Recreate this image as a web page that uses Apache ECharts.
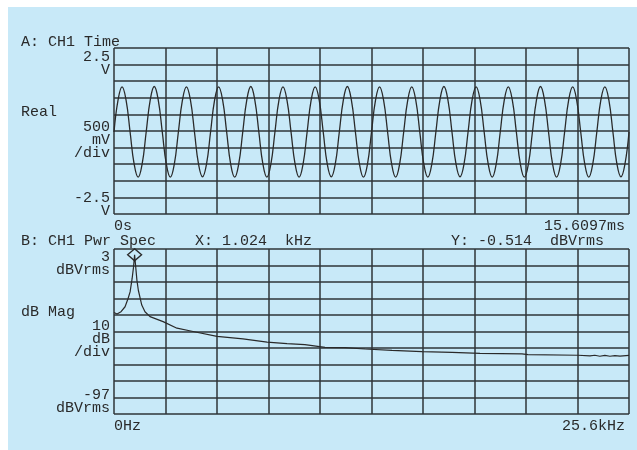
<!DOCTYPE html>
<html>
<head>
<meta charset="utf-8">
<script src="https://cdn.jsdelivr.net/npm/echarts@6/dist/echarts.min.js"></script>
<style>
  html, body { margin: 0; padding: 0; background: #ffffff; }
  #chart { position: absolute; left: 8px; top: 7px; width: 629px; height: 443px; }
</style>
</head>
<body>
<div id="chart"></div>
<script>
// trace A: time record, volts (8 readings per cycle, 16 cycles)
const timeSpanMs = 15.6097
const waveVolts = [
  -0.03, 0.93, 1.33, 0.93, -0.03, -0.99, -1.39, -0.99,
  -0.03, 0.93, 1.34, 0.93, -0.03, -0.99, -1.39, -0.99,
  -0.03, 0.92, 1.33, 0.93, -0.03, -0.99, -1.38, -0.99,
  -0.03, 0.93, 1.33, 0.93, -0.03, -1.00, -1.39, -0.99,
  -0.03, 0.93, 1.34, 0.93, -0.03, -0.99, -1.39, -0.99,
  -0.03, 0.93, 1.33, 0.92, -0.03, -0.99, -1.39, -0.99,
  -0.03, 0.93, 1.33, 0.93, -0.03, -0.99, -1.38, -0.99,
  -0.03, 0.93, 1.34, 0.93, -0.03, -0.99, -1.39, -1.00,
  -0.03, 0.93, 1.33, 0.93, -0.03, -0.99, -1.39, -0.99,
  -0.03, 0.92, 1.33, 0.93, -0.03, -0.99, -1.39, -0.99,
  -0.03, 0.93, 1.34, 0.93, -0.03, -0.99, -1.38, -0.99,
  -0.03, 0.93, 1.33, 0.93, -0.03, -0.99, -1.39, -0.99,
  -0.03, 0.93, 1.33, 0.93, -0.03, -1.00, -1.39, -0.99,
  -0.03, 0.93, 1.34, 0.93, -0.03, -0.99, -1.39, -0.99,
  -0.03, 0.93, 1.33, 0.92, -0.03, -0.99, -1.39, -0.99,
  -0.03, 0.93, 1.33, 0.93, -0.03, -0.99, -1.38, -0.99,
  -0.03
]

// trace B: power spectrum, kHz / dBVrms
const specFreqKHz = [
  0, 0.15, 0.35, 0.55, 0.70, 0.80, 0.90, 0.97, 1.024, 1.08, 1.14, 1.21, 1.38, 1.54,
  1.79, 2.44, 3.13, 3.93, 5.12, 6.41, 7.61, 8.60, 9.49, 10.49, 11.48, 12.48, 13.82,
  15.31, 16.80, 18.19, 20.28, 20.58, 23.07, 23.66, 23.9, 24.15, 24.4, 24.65, 24.9, 25.15, 25.6
]
const specDb = [
  -35.5, -36.4, -35, -32, -27, -23, -15, -8, -0.514, -8, -16, -22, -31, -35,
  -38, -41, -45, -47, -50, -51.5, -53.4, -54.4, -55, -56.6, -56.8, -57.6, -58.4,
  -59.2, -59.6, -60.2, -60.6, -61, -61.4, -61.8, -61.4, -62, -61.5, -62, -61.6, -61.9, -61.5
]
const marker = { freq: 1.024, db: -0.514 }

const timeLabels = ['0s', '15.6097ms']
const freqLabels = ['0Hz', '25.6kHz']
const voltLabels = ['2.5', 'V', '500', 'mV', '/div', '-2.5', 'V']
const dbLabels = ['3', 'dBVrms', '10', 'dB', '/div', '-97', 'dBVrms']

const FONT = 'Liberation Mono'
const INK = '#2a2a2a'
const GRIDLINE = '#2f3438'

const wavePoints = waveVolts.map((v, i) => [i * timeSpanMs / (waveVolts.length - 1), v])
const specPoints = specFreqKHz.map((f, i) => [f, specDb[i]])

const richText = {
  t: { fontFamily: FONT, fontSize: 15, lineHeight: 13, color: INK, align: 'right' },
  r: { fontFamily: FONT, fontSize: 15, color: INK, padding: [0, 4, 0, 0] },
  g32: { fontSize: 1, lineHeight: 32 },
  g18: { fontSize: 1, lineHeight: 18 },
  g19: { fontSize: 1, lineHeight: 19 },
  g29: { fontSize: 1, lineHeight: 29 },
  g15: { fontSize: 1, lineHeight: 15 },
  g24: { fontSize: 1, lineHeight: 24 }
}

const t = s => '{t|' + s + '}'

const gridX = (gridIndex, labels) => ({
  type: 'value', gridIndex, min: 0, max: 10, interval: 1,
  axisLine: { show: false }, axisTick: { show: false },
  splitLine: { show: true, lineStyle: { color: GRIDLINE, width: 1.5 } },
  axisLabel: {
    margin: 5, fontFamily: FONT, fontSize: 15, color: INK, rich: richText,
    alignMinLabel: 'left', alignMaxLabel: 'right',
    formatter: v => v === 0 ? labels[0] : (v === 10 ? '{r|' + labels[1] + '}' : '')
  }
})

const gridY = (gridIndex, labels, gaps) => ({
  type: 'value', gridIndex, min: 0, max: 10, interval: 1,
  axisLine: { show: false }, axisTick: { show: false },
  splitLine: { show: true, lineStyle: { color: GRIDLINE, width: 1.5 } },
  axisLabel: {
    margin: 4, fontFamily: FONT, fontSize: 15, color: INK, rich: richText,
    formatter: v => {
      if (v === 10) return '{' + gaps[0] + '| }\n' + t(labels[0]) + '\n' + t(labels[1])
      if (v === 5) return '{' + gaps[1] + '| }\n' + t(labels[2]) + '\n' + t(labels[3]) + '\n' + t(labels[4])
      if (v === 0) return t(labels[5]) + '\n' + t(labels[6]) + '\n{' + gaps[2] + '| }'
      return ''
    }
  }
})

const dataAxis = (gridIndex, min, max) => ({ type: 'value', gridIndex, min, max, show: false })

const headText = (text, left, top) => ({
  text, left, top, padding: 0,
  textStyle: { fontFamily: FONT, fontSize: 15, fontWeight: 'normal', color: INK, lineHeight: 15 }
})

const chart = echarts.init(document.getElementById('chart'))

chart.setOption({
  backgroundColor: '#c8e9f8',
  animation: false,
  title: [
    headText('A: CH1 Time', 13, 28),
    headText('Real', 13, 98),
    headText('B: CH1 Pwr Spec', 13, 227),
    headText('X: 1.024  kHz', 187, 227),
    headText('Y: -0.514  dBVrms', 443, 227),
    headText('dB Mag', 13, 298)
  ],
  grid: [
    { left: 106, top: 41, right: 8, height: 166 },
    { left: 106, top: 242, right: 8, height: 165 }
  ],
  xAxis: [
    gridX(0, timeLabels),
    dataAxis(0, 0, timeSpanMs),
    gridX(1, freqLabels),
    dataAxis(1, 0, 25.6)
  ],
  yAxis: [
    gridY(0, voltLabels, ['g32', 'g18', 'g19']),
    dataAxis(0, -2.5, 2.5),
    gridY(1, dbLabels, ['g29', 'g15', 'g24']),
    dataAxis(1, -97, 3)
  ],
  series: [
    {
      type: 'line', xAxisIndex: 1, yAxisIndex: 1,
      data: wavePoints, smooth: 0.45, symbol: 'none',
      lineStyle: { color: INK, width: 1.3 }
    },
    {
      type: 'line', xAxisIndex: 3, yAxisIndex: 3,
      data: specPoints, symbol: 'none',
      lineStyle: { color: INK, width: 1.2 },
      markPoint: {
        symbol: 'diamond', symbolSize: [14, 12],
        label: { show: false },
        itemStyle: { color: 'rgba(0,0,0,0)', borderColor: INK, borderWidth: 1.3 },
        data: [{ coord: [marker.freq, marker.db] }]
      }
    }
  ]
})
</script>
</body>
</html>
